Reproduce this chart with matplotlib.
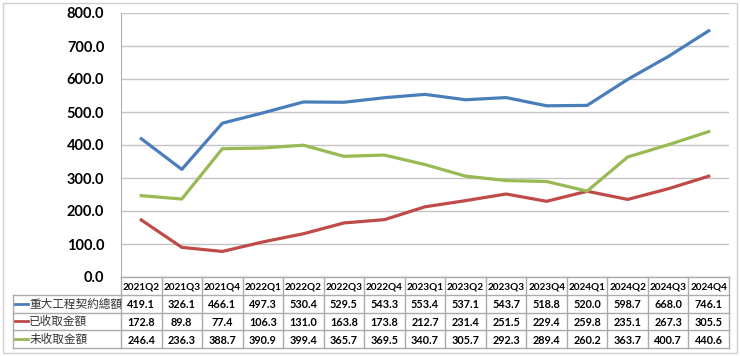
import numpy as np
import matplotlib
matplotlib.use('Agg')
import matplotlib.pyplot as plt
from matplotlib.patches import Rectangle

plt.rcParams['font.family'] = ['Lato', 'Noto Sans CJK TC', 'DejaVu Sans']

quarters = ['2021Q2', '2021Q3', '2021Q4', '2022Q1', '2022Q2', '2022Q3', '2022Q4',
            '2023Q1', '2023Q2', '2023Q3', '2023Q4', '2024Q1', '2024Q2', '2024Q3', '2024Q4']
total = [419.1, 326.1, 466.1, 497.3, 530.4, 529.5, 543.3, 553.4, 537.1, 543.7,
         518.8, 520.0, 598.7, 668.0, 746.1]
received = [172.8, 89.8, 77.4, 106.3, 131.0, 163.8, 173.8, 212.7, 231.4, 251.5,
            229.4, 259.8, 235.1, 267.3, 305.5]
outstanding = [246.4, 236.3, 388.7, 390.9, 399.4, 365.7, 369.5, 340.7, 305.7, 292.3,
               289.4, 260.2, 363.7, 400.7, 440.6]

series = [
    ('重大工程契約總額', total, '#4A7EBB'),
    ('已收取金額', received, '#BE4B48'),
    ('未收取金額', outstanding, '#98B954'),
]

W, H = 740, 356
fig = plt.figure(figsize=(W / 100, H / 100), dpi=100)

# plot area in pixels
px_l, px_r, px_t, px_b = 121, 729, 13, 277
tab_b = 348
ax = fig.add_axes([px_l / W, (H - px_b) / H, (px_r - px_l) / W, (px_b - px_t) / H])
x = np.arange(len(quarters))
for name, vals, col in series:
    ax.plot(x, vals, color=col, lw=2.3, solid_joinstyle='round')

ax.set_xlim(-0.5, len(quarters) - 0.5)
ax.set_ylim(0, 800)
ax.set_yticks(np.arange(0, 801, 100))
ax.set_yticklabels([f'{v:.1f}' for v in np.arange(0, 801, 100)],
                   fontsize=10.5, fontweight='bold')
ax.tick_params(axis='y', length=0, pad=12)
ax.set_xticks([])
ax.grid(axis='y', color='#C4C4C4', lw=1)
ax.set_axisbelow(True)
for s in ['top', 'right', 'bottom']:
    ax.spines[s].set_visible(False)
ax.spines['left'].set_color('#B0B0B0')

# data table under the plot
tax = fig.add_axes([px_l / W, (H - tab_b) / H, (px_r - px_l) / W, (tab_b - px_b) / H])
tax.set_xlim(-0.5, len(quarters) - 0.5)
tax.set_ylim(4, 0)
tax.axis('off')
colw = (px_r - px_l) / len(quarters)
x_lab = -0.5 - (px_l - 13) / colw
lc = '#ABABAB'
tax.plot([-0.5, 14.5], [0, 0], color=lc, lw=1, clip_on=False)
for r in range(1, 5):
    tax.plot([x_lab, 14.5], [r, r], color=lc, lw=1, clip_on=False)
for k in range(len(quarters) + 1):
    tax.plot([k - 0.5, k - 0.5], [0, 4], color=lc, lw=1, clip_on=False)
tax.plot([x_lab, x_lab], [1, 4], color=lc, lw=1, clip_on=False)

for i, q in enumerate(quarters):
    tax.text(i, 0.55, q, ha='center', va='center', fontsize=7.2, fontweight='bold')
for r, (name, vals, col) in enumerate(series, start=1):
    tax.plot([x_lab + 0.05, x_lab + 0.38], [r + 0.5, r + 0.5], color=col, lw=2,
             clip_on=False)
    tax.text(x_lab + 0.4, r + 0.52, name, ha='left', va='center', fontsize=8.4,
             family=['Noto Sans CJK TC', 'DejaVu Sans'], color='#333333')
    for i, v in enumerate(vals):
        tax.text(i, r + 0.55, f'{v:.1f}', ha='center', va='center',
                 fontsize=7.8, fontweight='bold')

fig.patches.append(Rectangle((3 / W, 3 / H), 734 / W, 350 / H, transform=fig.transFigure,
                             fill=False, edgecolor='#D0D0D0', lw=1))

fig.savefig('out.png', dpi=100)
